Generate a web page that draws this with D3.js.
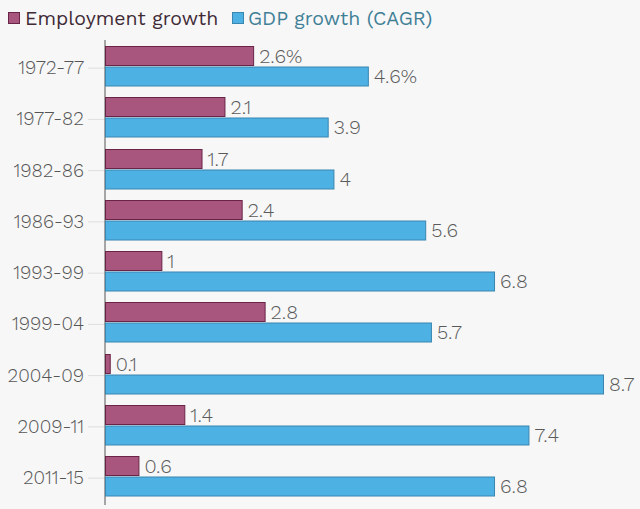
<!DOCTYPE html>
<html><head><meta charset="utf-8">
<script src="https://cdn.jsdelivr.net/npm/d3@7"></script>
<style>
html,body{margin:0;padding:0;background:#f7f7f7;}
svg{display:block;font-family:"Work Sans","Roboto","Open Sans",sans-serif;}
</style></head><body>
<svg id="c" width="640" height="509"></svg>
<script>
const categories = ["1972-77","1977-82","1982-86","1986-93","1993-99","1999-04","2004-09","2009-11","2011-15"];
const employment = [2.6, 2.1, 1.7, 2.4, 1, 2.8, 0.1, 1.4, 0.6];
const gdp = [4.6, 3.9, 4, 5.6, 6.8, 5.7, 8.7, 7.4, 6.8];
const empLabels = ["2.6%","2.1","1.7","2.4","1","2.8","0.1","1.4","0.6"];
const gdpLabels = ["4.6%","3.9","4","5.6","6.8","5.7","8.7","7.4","6.8"];
const seriesNames = ["Employment growth","GDP growth (CAGR)"];

const svg = d3.select("#c");
const W = 640, H = 509;
svg.append("rect").attr("width",W).attr("height",H).attr("fill","#f7f7f7");

const x0 = 105;
const x = d3.scaleLinear().domain([0, 8.7]).range([x0, 604]);
const y = d3.scaleBand().domain(categories).range([42.5, 503.75]).paddingInner(0).paddingOuter(0);
const barH = 19;

const g = svg.append("g");

// y axis
const yAxis = d3.axisLeft(y).tickSize(17).tickPadding(4);
const ax = g.append("g").attr("transform",`translate(${x0},0)`).call(yAxis);
ax.attr("font-family", null).attr("font-size", null);
ax.select(".domain").remove();
ax.selectAll(".tick line").attr("stroke","#dedede").attr("stroke-width",1);
ax.selectAll(".tick text").attr("font-size",19).attr("fill","#555").attr("font-weight",300);

// axis line
g.append("line").attr("x1",x0).attr("x2",x0).attr("y1",40).attr("y2",505)
 .attr("stroke","#555").attr("stroke-width",1);

const rowMid = c => y(c) + y.bandwidth()/2;

// employment bars
g.selectAll(".emp").data(categories).join("rect")
 .attr("x", x0+0.5).attr("y", c=>Math.round(rowMid(c)) - 22 + 0.5)
 .attr("width",(c,i)=>Math.max(0,x(employment[i])-x0-1)).attr("height",barH)
 .attr("fill","#a9567f").attr("stroke","#6a2446").attr("stroke-width",1);
g.selectAll(".gdp").data(categories).join("rect")
 .attr("x", x0+0.5).attr("y", c=>Math.round(rowMid(c)) - 1.5 + 0.5)
 .attr("width",(c,i)=>x(gdp[i])-x0-1).attr("height",barH)
 .attr("fill","#4eb1e4").attr("stroke","#3a86b0").attr("stroke-width",1);

// labels
g.selectAll(".el").data(categories).join("text")
 .attr("x",(c,i)=>x(employment[i])+5).attr("y",c=>Math.round(rowMid(c)) - 12.5)
 .attr("dy","0.35em").attr("font-size",20).attr("font-weight",300).attr("fill","#5a5a5a")
 .text((c,i)=>empLabels[i]);
g.selectAll(".gl").data(categories).join("text")
 .attr("x",(c,i)=>x(gdp[i])+5).attr("y",c=>Math.round(rowMid(c)) + 7.5)
 .attr("dy","0.35em").attr("font-size",20).attr("font-weight",300).attr("fill","#5a5a5a")
 .text((c,i)=>gdpLabels[i]);

// legend
const leg = svg.append("g");
leg.append("rect").attr("x",8.5).attr("y",12.5).attr("width",11).attr("height",11)
 .attr("fill","#a9567f").attr("stroke","#6a2446");
leg.append("text").attr("x",25).attr("y",18).attr("dy","0.35em").attr("font-size",19.5)
 .attr("fill","#3f2a36").text(seriesNames[0]);
leg.append("rect").attr("x",232.5).attr("y",12.5).attr("width",11).attr("height",11)
 .attr("fill","#4eb1e4").attr("stroke","#3a86b0");
leg.append("text").attr("x",248).attr("y",18).attr("dy","0.35em").attr("font-size",19.5)
 .attr("fill","#3f7f96").text(seriesNames[1]);
</script>
</body></html>
